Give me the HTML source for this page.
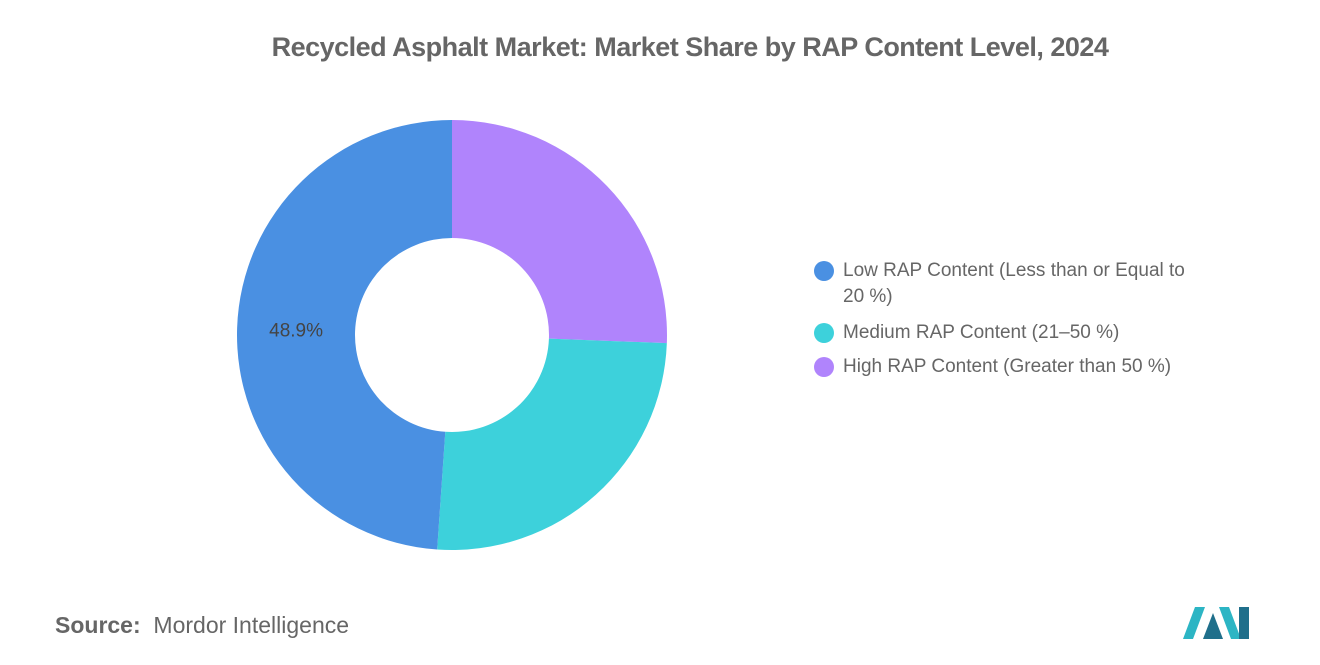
<!DOCTYPE html>
<html><head><meta charset="utf-8"><style>
body{margin:0;width:1320px;height:665px;background:#fff;font-family:"Liberation Sans",sans-serif;overflow:hidden;position:relative}
.t{position:absolute;left:0;width:1380px;top:32px;text-align:center;font-size:27px;font-weight:bold;color:#666;letter-spacing:-0.5px}
.lg{position:absolute;left:814px;font-size:19px;color:#666;line-height:26px}
.dot{position:absolute;left:0;top:3px;width:20px;height:20px;border-radius:50%}
.lg span.tx{display:block;padding-left:29px;width:400px}
.src{position:absolute;left:55px;top:612px;font-size:23px;color:#666}
</style></head><body>
<div class="t">Recycled Asphalt Market: Market Share by RAP Content Level, 2024</div>
<svg id="c" width="1320" height="665" style="position:absolute;left:0;top:0"></svg>
<div class="lg" style="top:258px"><div class="dot" style="background:#4a90e2"></div><span class="tx">Low RAP Content (Less than or Equal to<br>20 %)</span></div>
<div class="lg" style="top:320px"><div class="dot" style="background:#3dd1db"></div><span class="tx">Medium RAP Content (21–50 %)</span></div>
<div class="lg" style="top:354px"><div class="dot" style="background:#b084fc"></div><span class="tx">High RAP Content (Greater than 50 %)</span></div>
<div class="src"><b>Source:</b>&nbsp; Mordor Intelligence</div>
<svg width="70" height="40" style="position:absolute;left:1183px;top:603px">
<polygon points="0,36 12,4 22,4 10,36" fill="#2cb5c4"/><polygon points="20,36 30,10 40,36" fill="#1f6f8b"/><polygon points="36,4 46,4 58,36 48,36" fill="#2cb5c4"/><rect x="56" y="4" width="10" height="32" fill="#1f6f8b"/>
</svg>
<script>
const categories=["High RAP Content","Medium RAP Content","Low RAP Content"];
const values=[25.6,25.5,48.9];
const colors=["#b084fc","#3dd1db","#4a90e2"];
const labels=["","","48.9%"];
const svg=document.getElementById('c');
const cx=452,cy=335,R=215,r=97;
const tot=values.reduce((a,b)=>a+b,0);
let a0=0;
function pt(a,rad){return [cx+rad*Math.sin(a),cy-rad*Math.cos(a)];}
values.forEach((v,i)=>{
 const a1=a0+v/tot*2*Math.PI;const lg=(a1-a0)>Math.PI?1:0;
 const [x1,y1]=pt(a0,R),[x2,y2]=pt(a1,R),[x3,y3]=pt(a1,r),[x4,y4]=pt(a0,r);
 const p=document.createElementNS('http://www.w3.org/2000/svg','path');
 p.setAttribute('d',`M${x1},${y1}A${R},${R} 0 ${lg} 1 ${x2},${y2}L${x3},${y3}A${r},${r} 0 ${lg} 0 ${x4},${y4}Z`);
 p.setAttribute('fill',colors[i]);
 
 
 svg.appendChild(p);
 if(labels[i]){const m=(a0+a1)/2;const [lx,ly]=pt(m,(R+r)/2);
  const t=document.createElementNS('http://www.w3.org/2000/svg','text');
  t.setAttribute('x',lx);t.setAttribute('y',ly+7);t.setAttribute('text-anchor','middle');
  t.setAttribute('font-size','19');t.setAttribute('fill','#444');t.setAttribute('font-family','Liberation Sans');
  t.textContent=labels[i];
  
  
  svg.appendChild(t);}
 a0=a1;
});
</script>
</body></html>
